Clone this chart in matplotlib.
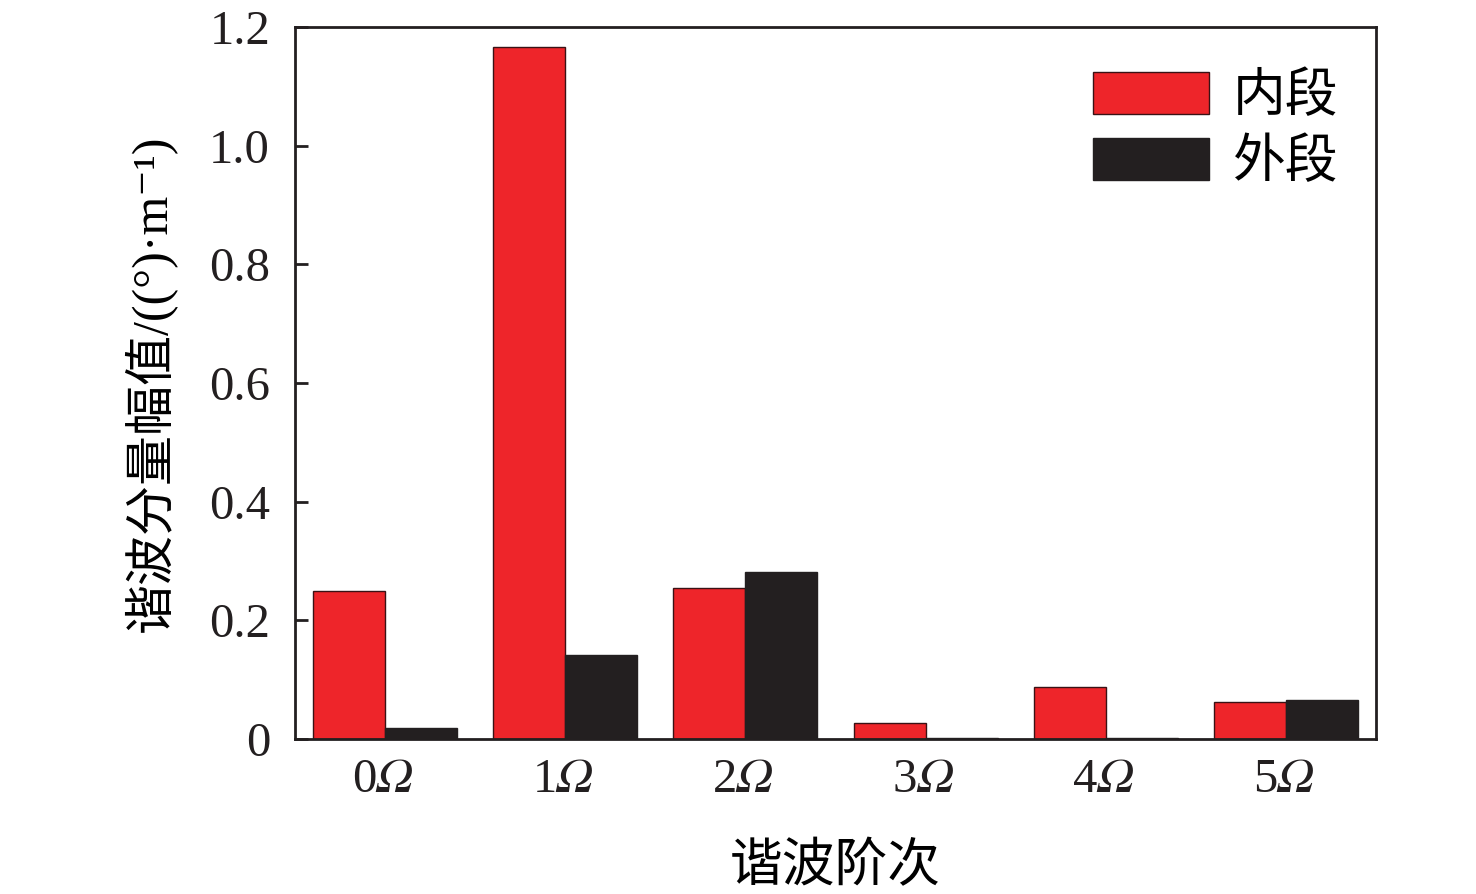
# -*- coding: utf-8 -*-
import numpy as np
import matplotlib.pyplot as plt
import matplotlib as mpl

mpl.rcParams['font.family'] = ['Liberation Serif', 'Noto Sans CJK SC', 'DejaVu Serif']
mpl.rcParams['axes.unicode_minus'] = False

# 数据
orders = ['0', '1', '2', '3', '4', '5']
inner = [0.250, 1.167, 0.255, 0.027, 0.088, 0.062]   # 内段
outer = [0.019, 0.142, 0.282, 0.001, 0.001, 0.066]   # 外段
yticks = [0, 0.2, 0.4, 0.6, 0.8, 1.0, 1.2]

red = '#EE252A'
black = '#231F20'

fig = plt.figure(figsize=(14.76, 8.94), dpi=100)
ax = fig.add_axes([0.1999, 0.1734, 0.7323, 0.7964])

x = np.arange(len(orders))
w = 0.4
ax.bar(x - w / 2, inner, width=w, color=red, edgecolor='#3a1215', linewidth=1.0, label='内段')
ax.bar(x + w / 2, outer, width=w, color=black, edgecolor=black, linewidth=1.0, label='外段')

ax.set_xlim(-0.5, 5.5)
ax.set_ylim(0, 1.2)
ax.set_xticks(x)
ax.set_xticklabels([])
# 刻度标签：数字正体 + 斜体 Ω (STIX 斜体)
for xi, o in zip(x, orders):
    ax.annotate(o, xy=(xi, 0), xycoords=('data', 'axes fraction'),
                xytext=(-6, -14), textcoords='offset points',
                ha='right', va='top', fontsize=35, color=black)
    ax.annotate('Ω', xy=(xi, 0), xycoords=('data', 'axes fraction'),
                xytext=(-7, -14), textcoords='offset points',
                ha='left', va='top', fontsize=35, family='STIXGeneral',
                fontstyle='italic', color=black)
ax.set_yticks(yticks)
ax.set_yticklabels(['0' if v == 0 else '%.1f' % v for v in yticks], fontsize=35)
ax.tick_params(axis='x', length=0, pad=14)
ax.tick_params(axis='y', direction='in', length=9, width=2, pad=18, colors=black)
for s in ax.spines.values():
    s.set_linewidth(2)
    s.set_color(black)

ax.set_ylabel('谐波分量幅值/((°)·m⁻¹)', fontsize=36, labelpad=24)
ax.set_xlabel('谐波阶次', fontsize=38, labelpad=61)

ax.legend(loc='upper right', bbox_to_anchor=(1.009, 1.004), frameon=False, fontsize=38,
          handlelength=2.2, handleheight=0.85, handletextpad=0.45, labelspacing=0.3)

plt.savefig('out.png', dpi=100)
